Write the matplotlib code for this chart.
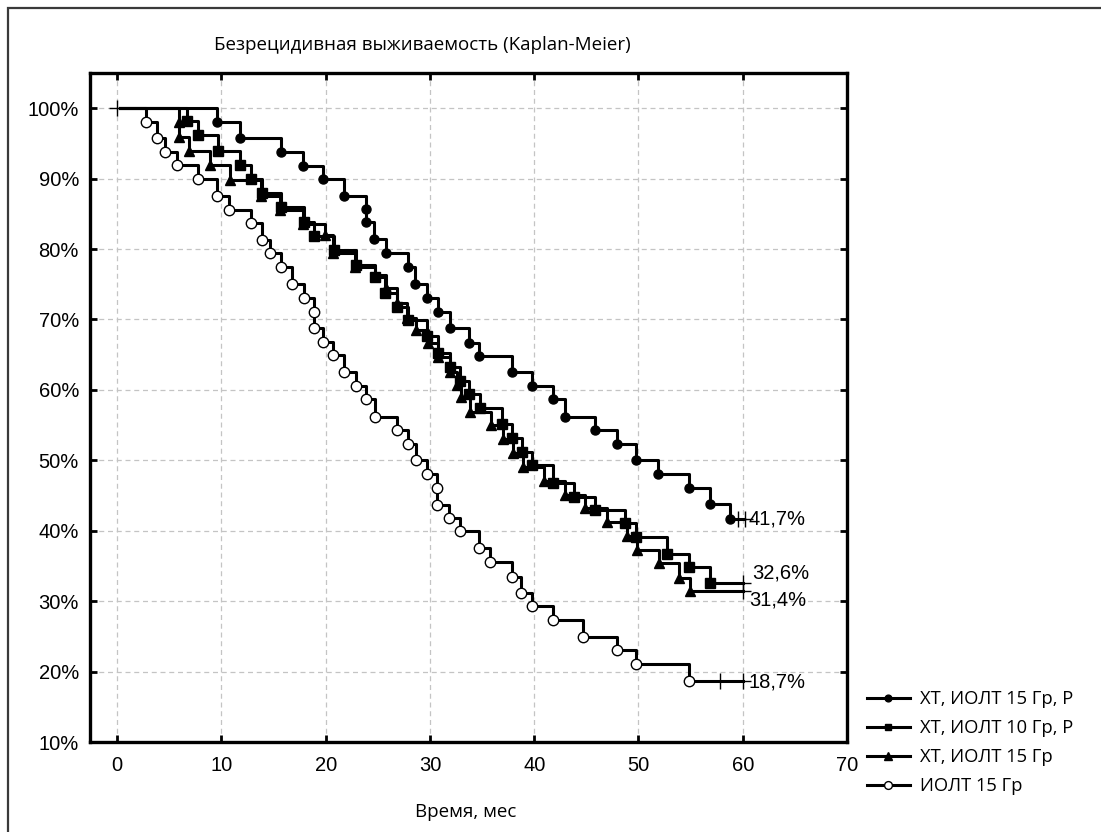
import matplotlib
matplotlib.use("Agg")
import matplotlib.pyplot as plt
from matplotlib.patches import Rectangle
from matplotlib.lines import Line2D

# ---------------- data ----------------
series_names = ["ХТ, ИОЛТ 15 Гр, Р", "ХТ, ИОЛТ 10 Гр, Р", "ХТ, ИОЛТ 15 Гр", "ИОЛТ 15 Гр"]

# ХТ, ИОЛТ 15 Гр, Р (filled circles)
t_c15r = [9.6, 11.8, 15.7, 17.8, 19.7, 21.8, 23.9, 23.9, 24.6, 25.8, 27.9, 28.6, 29.7,
          30.8, 31.9, 33.7, 34.7, 37.9, 39.8, 41.8, 43.0, 45.8, 47.9, 49.8, 51.9, 54.8,
          56.9, 58.8]
s_c15r = [98.1, 95.7, 93.8, 91.8, 89.9, 87.5, 85.7, 83.8, 81.4, 79.4, 77.4, 75.1, 73.1,
          71.1, 68.8, 66.7, 64.8, 62.5, 60.6, 58.7, 56.2, 54.3, 52.3, 50.0, 48.1, 46.0,
          43.8, 41.7]
cens_c15r = [59.5, 60.2]

# ХТ, ИОЛТ 10 Гр, Р (filled squares)
t_c10r = [6.7, 7.8, 9.7, 11.8, 12.8, 13.9, 15.7, 17.9, 18.9, 20.8, 22.9, 24.7, 25.7,
          26.8, 27.9, 29.7, 30.8, 31.9, 32.9, 33.7, 34.8, 36.9, 37.9, 38.8, 39.8, 41.8,
          43.8, 45.8, 48.7, 49.8, 52.7, 54.8, 56.9]
s_c10r = [98.2, 96.2, 93.9, 91.9, 89.9, 88.0, 86.0, 83.8, 81.8, 79.8, 77.8, 76.0, 73.7,
          71.8, 69.9, 67.6, 65.2, 63.2, 61.3, 59.4, 57.5, 55.2, 53.2, 51.2, 49.3, 46.8,
          44.8, 42.9, 41.1, 39.1, 36.7, 34.8, 32.6]
cens_c10r = [60.0]

# ХТ, ИОЛТ 15 Гр (filled triangles)
t_c15 = [5.9, 5.9, 6.9, 8.9, 10.8, 13.8, 15.6, 17.8, 19.9, 20.7, 22.8, 24.7, 25.8, 26.8,
         27.8, 28.7, 29.8, 30.8, 31.9, 32.6, 33.0, 33.8, 35.9, 37.0, 38.0, 38.9, 40.9,
         43.0, 44.9, 47.0, 48.9, 49.9, 52.0, 53.9, 54.9]
s_c15 = [98.0, 95.9, 93.9, 91.9, 89.8, 87.6, 85.6, 83.6, 82.0, 79.5, 77.5, 76.3, 74.4,
         72.3, 70.2, 68.5, 66.6, 64.7, 62.6, 60.7, 59.0, 56.9, 55.0, 53.0, 51.1, 49.1,
         47.1, 45.1, 43.2, 41.3, 39.3, 37.3, 35.4, 33.3, 31.4]
cens_c15 = [60.0]

# ИОЛТ 15 Гр (open circles)
t_i15 = [2.8, 3.8, 4.6, 5.7, 7.8, 9.6, 10.7, 12.8, 13.9, 14.7, 15.7, 16.8, 17.9, 18.9,
         18.9, 19.7, 20.7, 21.8, 22.9, 23.9, 24.7, 26.8, 27.9, 28.7, 29.7, 30.7, 30.7,
         31.8, 32.9, 34.7, 35.8, 37.9, 38.7, 39.8, 41.8, 44.7, 47.9, 49.8, 54.8]
s_i15 = [98.1, 95.7, 93.8, 91.9, 89.9, 87.5, 85.6, 83.7, 81.3, 79.4, 77.4, 75.0, 73.1,
         71.1, 68.8, 66.8, 64.9, 62.5, 60.6, 58.7, 56.2, 54.3, 52.3, 50.0, 48.0, 46.1,
         43.7, 41.8, 39.9, 37.5, 35.5, 33.5, 31.2, 29.3, 27.3, 24.9, 23.0, 21.1, 18.7]
cens_i15 = [57.8, 60.0]

end_labels = ["41,7%", "32,6%", "31,4%", "18,7%"]
x_ticks = [0, 10, 20, 30, 40, 50, 60, 70]
y_ticks = [10, 20, 30, 40, 50, 60, 70, 80, 90, 100]
title = "Безрецидивная выживаемость (Kaplan-Meier)"
xlabel = "Время, мес"

# ---------------- figure ----------------
W, H = 1101, 832
fig = plt.figure(figsize=(W / 100, H / 100), dpi=100)
fig.patch.set_facecolor("white")

# outer frame (left and top edges visible)
fig.add_artist(Rectangle((8 / W, -0.05), 1.05, 1.05 - 8 / H,
                         transform=fig.transFigure, fill=False,
                         edgecolor="#3a3a3a", lw=1.6))

ax = fig.add_axes([90 / W, (H - 742) / H, (847 - 90) / W, (742 - 73) / H])
ax.set_xlim(-2.6, 70)
ax.set_ylim(10, 105)

tick_font = {"family": ["Liberation Sans", "DejaVu Sans"], "size": 14.5}
label_font = ["Open Sans", "DejaVu Sans"]

ax.set_xticks(x_ticks)
ax.set_yticks(y_ticks)
ax.set_xticklabels([str(v) for v in x_ticks], fontdict=tick_font)
ax.set_yticklabels([f"{v}%" for v in y_ticks], fontdict=tick_font)
ax.tick_params(direction="in", length=5, width=2, top=True, right=True,
               pad=10, colors="black")
ax.tick_params(axis="y", pad=8)
for sp in ax.spines.values():
    sp.set_linewidth(2.4)
    sp.set_color("black")
ax.grid(True, color="#c4c4c4", linestyle=(0, (4, 3)), linewidth=0.9)
ax.set_axisbelow(True)

lw = 2.2
styles = [
    dict(marker="o", mfc="black", mec="black", ms=6.5),
    dict(marker="s", mfc="black", mec="black", ms=6.5),
    dict(marker="^", mfc="black", mec="black", ms=7),
    dict(marker="o", mfc="white", mec="black", ms=7.5, mew=1.0),
]
data = [(t_c15r, s_c15r, cens_c15r), (t_c10r, s_c10r, cens_c10r),
        (t_c15, s_c15, cens_c15), (t_i15, s_i15, cens_i15)]

for (t, s, c), st in zip(data, styles):
    xs = [0.3] + t + [60.0]
    ys = [100.0] + s + [s[-1]]
    ax.step(xs, ys, where="post", color="black", lw=lw, zorder=3)
    ax.plot(t, s, linestyle="none", zorder=4, **st)
    ax.plot(c, [s[-1]] * len(c), linestyle="none", marker="+", color="black",
            ms=12, mew=1.0, zorder=5)

# start marker
ax.plot([0], [100], linestyle="none", marker="+", color="black", ms=12, mew=1.0, zorder=5)

# end labels
lab_pos = [(60.6, 41.7), (60.9, 34.0), (60.6, 30.2), (60.6, 18.5)]
for txt, (x, y) in zip(end_labels, lab_pos):
    ax.text(x, y, txt, fontsize=14.5, family=["Liberation Sans", "DejaVu Sans"],
            va="center", ha="left", clip_on=False)

# title and x label
fig.text(422 / W, 1 - 45 / H, title, fontsize=13.5, family=label_font,
         ha="center", va="center")
fig.text(466 / W, 1 - 812 / H, xlabel, fontsize=13.5, family=label_font,
         ha="center", va="center")

# legend
handles = [Line2D([0], [0], color="black", lw=2.2,
                  **{k: (v * 0.75 if k == "ms" else v) for k, v in st.items()})
           for st in styles]
leg = fig.legend(handles, series_names, loc="upper left",
                 bbox_to_anchor=(860 / W, 1 - 683 / H), frameon=False,
                 prop={"family": label_font, "size": 13.2}, handlelength=2.3,
                 handletextpad=0.55, labelspacing=0.6, borderaxespad=0)

fig.savefig("out.png", dpi=100)
